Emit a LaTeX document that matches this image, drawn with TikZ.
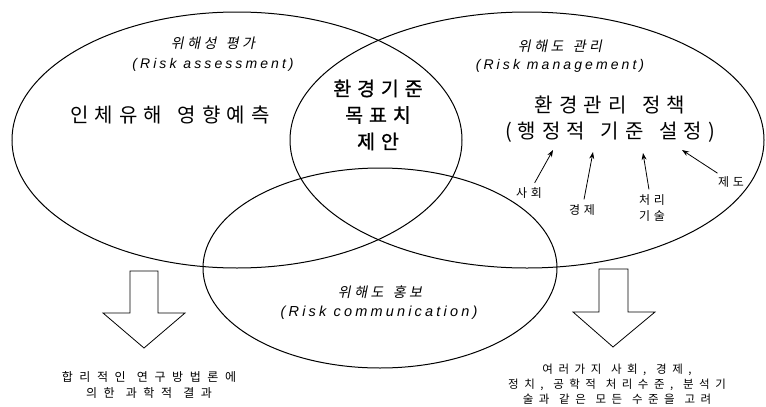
\documentclass[tikz,border=0pt]{standalone}
\usepackage{fontspec}
\usetikzlibrary{arrows.meta}
\newfontfamily\krhead[LetterSpace=30,WordSpace=1.5]{Noto Sans CJK KR}
\newfontfamily\krbold[LetterSpace=30,WordSpace=1.5,FakeBold=1]{Noto Sans CJK KR}
\newfontfamily\krnote[LetterSpace=55,WordSpace=1.2]{Noto Sans CJK KR}
\newfontfamily\krnotetight[LetterSpace=48,WordSpace=1.2]{Noto Sans CJK KR}
\newfontfamily\krtitle[FakeSlant=0.2,LetterSpace=25,WordSpace=1.4]{Noto Sans CJK KR}
\newfontfamily\entitle[LetterSpace=22]{Liberation Sans Italic}

\begin{document}
\begin{tikzpicture}[x=1pt,y=-1pt,
  ring/.style={line width=1pt},
  blockarrow/.style={line width=0.8pt, line join=miter, fill=white},
  krname/.style={font=\krtitle\fontsize{14}{22}\selectfont, inner sep=0pt},
  enname/.style={font=\entitle\fontsize{14}{22}\selectfont, inner sep=0pt},
  heading/.style={font=\krhead\fontsize{20}{26}\selectfont, align=center, inner sep=0pt},
  target/.style={font=\krbold\fontsize{19.5}{26.5}\selectfont, align=center, inner sep=0pt},
  factor/.style={font=\krhead\fontsize{12}{17}\selectfont, align=center, inner sep=1pt},
  note/.style={font=\krnote\fontsize{12}{16}\selectfont, align=center, inner sep=0pt},
  pointer/.style={line width=0.8pt, shorten <=4pt, -{Stealth[length=7pt,width=5pt]}}
]
\useasboundingbox (0,0) rectangle (766,407);
\fill[white] (0,0) rectangle (766,407);

% the three overlapping fields
\draw[ring] (237,140) ellipse [x radius=225pt, y radius=128pt];
\draw[ring] (527,140) ellipse [x radius=237pt, y radius=128pt];
\draw[ring] (380,268) ellipse [x radius=177pt, y radius=100pt];

% risk assessment
\node[krname] (assessKr) at (213,43) {위해성 평가};
\node[enname] (assessEn) at (213,65) {(Risk assessment)};
\node[heading] (predict) at (170,115) {인체유해 영향예측};

% overlap of assessment and management
\node[target] (standard) at (378,115) {환경기준\\목표치\\제안};

% risk management
\node[krname] (manageKr) at (560,46) {위해도 관리};
\node[enname] (manageEn) at (560,66) {(Risk management)};
\node[heading] (policy) at (610,119) {환경관리 정책\\(행정적 기준 설정)};

% factors feeding the policy
\node[factor] (social) at (529,193) {사회};
\node[factor] (economy) at (582,210) {경제};
\node[factor, font=\krhead\fontsize{12}{16}\selectfont] (tech) at (652,208) {처리\\기술};
\node[factor] (system) at (731,182) {제도};

\coordinate (socialTip) at (553,150);
\coordinate (economyTip) at (593,152);
\coordinate (techTip) at (643,153);
\coordinate (systemTip) at (682,150);

\draw[pointer] (social) -- (socialTip);
\draw[pointer] (economy) -- (economyTip);
\draw[pointer] (tech) -- (techTip);
\draw[pointer] (system) -- (systemTip);

% risk communication
\node[krname] (communicateKr) at (380,292) {위해도 홍보};
\node[enname, font=\entitle\fontsize{14.5}{22}\selectfont] (communicateEn) at (379,313) {(Risk communication)};

% outcome arrows
\draw[blockarrow] (130,271) -- (158,271) -- (158,313) -- (185,313) -- (144,348)
  -- (103,313) -- (130,313) -- cycle;
\draw[blockarrow] (599,269) -- (628,269) -- (628,312) -- (655,312) -- (613,347)
  -- (573,312) -- (599,312) -- cycle;

\node[note] (science) at (149,385) {합리적인 연구방법론에\\의한 과학적 결과};
\node[note, font=\krnotetight\fontsize{11.5}{15}\selectfont] (consider) at (617,384)
  {여러가지 사회, 경제,\\정치, 공학적 처리수준, 분석기\\술과 같은 모든 수준을 고려};
\end{tikzpicture}
\end{document}
